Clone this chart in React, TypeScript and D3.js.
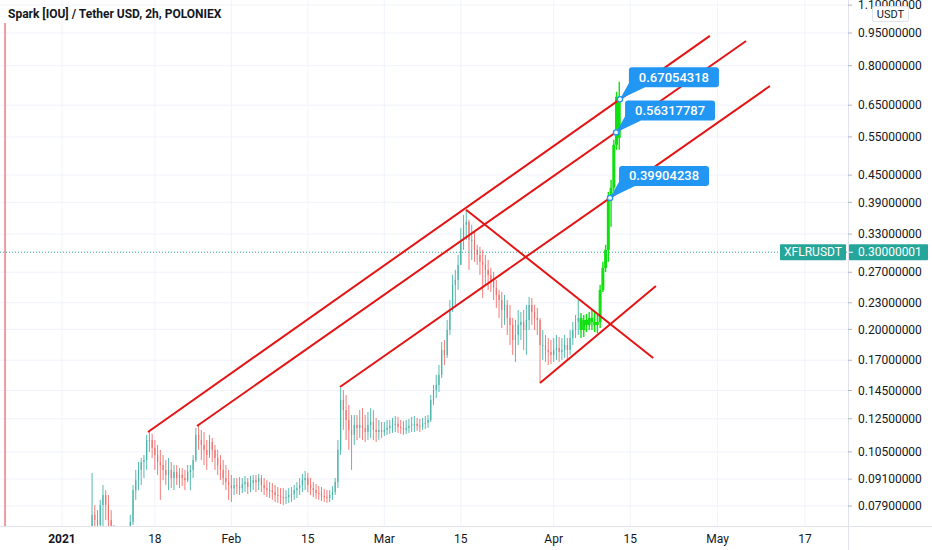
import * as d3 from "d3";

const FONT = "Roboto, 'Noto Sans', sans-serif";
const HOUR = 3600e3;

// [high, low, close] per 12h candle; open = previous close
type Row = [number, number, number];

const firstOpen = 0.068;

const janStart = "2021-01-06T12:00:00Z";
const janCandles: Row[] = [
  [0.094, 0.0661, 0.0754], [0.0794, 0.0679, 0.0734], [0.0773, 0.0679, 0.0715], [0.0816, 0.0679, 0.0794],
  [0.0882, 0.0697, 0.0837], [0.0859, 0.0734, 0.0794], [0.0837, 0.0697, 0.0734], [0.0773, 0.0661, 0.0697],
  [0.0715, 0.0628, 0.0661], [0.0697, 0.0612, 0.0644], [0.0679, 0.0596, 0.0628], [0.0679, 0.0596, 0.0634],
  [0.069, 0.0612, 0.0644], [0.0697, 0.0628, 0.0679], [0.0754, 0.0661, 0.0727], [0.0882, 0.0715, 0.0859],
  [0.0955, 0.0816, 0.0905], [0.0996, 0.0859, 0.0955], [0.1017, 0.0882, 0.0996], [0.1033, 0.0915, 0.1006],
  [0.1148, 0.0955, 0.1118], [0.1166, 0.105, 0.1118], [0.1154, 0.1017, 0.1072], [0.1118, 0.0955, 0.1033],
  [0.1089, 0.093, 0.0996], [0.1061, 0.0816, 0.098], [0.1033, 0.0905, 0.0955], [0.1006, 0.0882, 0.093],
  [0.1017, 0.0859, 0.0955], [0.0996, 0.0868, 0.0915], [0.098, 0.0859, 0.0945], [0.098, 0.0882, 0.0915],
  [0.0965, 0.0868, 0.093], [0.0965, 0.0877, 0.0915], [0.0955, 0.0859, 0.0905], [0.098, 0.0896, 0.0945],
  [0.098, 0.0859, 0.0955], [0.1033, 0.0915, 0.1006], [0.1191, 0.0996, 0.1148], [0.1204, 0.1061, 0.1118],
  [0.1179, 0.1006, 0.1089], [0.1166, 0.098, 0.1061], [0.1118, 0.0955, 0.1033], [0.1148, 0.1017, 0.1106],
  [0.113, 0.0996, 0.1061], [0.1089, 0.0955, 0.1017], [0.1061, 0.093, 0.098], [0.1033, 0.0905, 0.0955],
  [0.1006, 0.0882, 0.0915], [0.098, 0.0859, 0.0896], [0.0955, 0.0816, 0.0882],
];

const febStart = "2021-02-01T00:00:00Z";
const febCandles: Row[] = [
  [0.093, 0.0807, 0.0868], [0.0915, 0.0837, 0.0882], [0.0915, 0.0841, 0.0877], [0.092, 0.0837, 0.0868],
  [0.0915, 0.0846, 0.0886], [0.0925, 0.085, 0.0896], [0.0915, 0.0841, 0.0873], [0.0925, 0.085, 0.0891],
  [0.093, 0.0859, 0.0905], [0.093, 0.085, 0.0896], [0.0935, 0.0859, 0.0915], [0.093, 0.085, 0.0882],
  [0.0915, 0.0837, 0.0868], [0.0905, 0.0828, 0.0859], [0.0896, 0.0824, 0.0859], [0.0891, 0.0816, 0.085],
  [0.0882, 0.0807, 0.0837], [0.0873, 0.0803, 0.0833], [0.0868, 0.0798, 0.0828], [0.0868, 0.0794, 0.0824],
  [0.0859, 0.0798, 0.0828], [0.0868, 0.0803, 0.0837], [0.0873, 0.0807, 0.0841], [0.0882, 0.0816, 0.0859],
  [0.0896, 0.0824, 0.0868], [0.0915, 0.0837, 0.0882], [0.0935, 0.085, 0.0905], [0.095, 0.0859, 0.0915],
  [0.094, 0.085, 0.0882], [0.0915, 0.0837, 0.0868], [0.0896, 0.0828, 0.0859], [0.0887, 0.082, 0.0846],
  [0.0877, 0.0816, 0.0841], [0.0873, 0.0811, 0.0833], [0.0864, 0.0807, 0.0828], [0.0859, 0.0803, 0.0824],
  [0.0859, 0.0807, 0.0837], [0.0877, 0.0816, 0.085], [0.0915, 0.0837, 0.0896], [0.1118, 0.0868, 0.1061],
  [0.147, 0.1033, 0.138], [0.1454, 0.1179, 0.1308], [0.1416, 0.1118, 0.1242], [0.1344, 0.1061, 0.1179],
  [0.1275, 0.0955, 0.1148], [0.1275, 0.1089, 0.121], [0.1275, 0.1118, 0.1191], [0.1308, 0.113, 0.121],
  [0.1322, 0.1118, 0.1191], [0.1275, 0.1106, 0.1166], [0.1295, 0.1118, 0.121], [0.1322, 0.113, 0.1229],
  [0.1308, 0.1118, 0.1179], [0.1255, 0.1106, 0.1166], [0.1242, 0.1118, 0.1179], [0.1229, 0.113, 0.1166],
];

const marStart = "2021-03-01T00:00:00Z";
const marCandles: Row[] = [
  [0.1229, 0.1142, 0.1179], [0.1242, 0.1148, 0.1191], [0.1242, 0.1154, 0.1204], [0.1255, 0.116, 0.121],
  [0.1268, 0.1166, 0.1217], [0.1262, 0.116, 0.1198], [0.1242, 0.1154, 0.1191], [0.1236, 0.1148, 0.1179],
  [0.1242, 0.1154, 0.1191], [0.1249, 0.116, 0.1204], [0.1262, 0.1166, 0.121], [0.1268, 0.1166, 0.1217],
  [0.1255, 0.1173, 0.1204], [0.1249, 0.1166, 0.1198], [0.1255, 0.1179, 0.1217], [0.1268, 0.1185, 0.1223],
  [0.1275, 0.1191, 0.1242], [0.1416, 0.1229, 0.138], [0.1493, 0.1344, 0.1454], [0.1574, 0.1394, 0.1493],
  [0.1658, 0.1439, 0.1574], [0.1871, 0.1549, 0.1795], [0.1891, 0.1658, 0.1748], [0.2101, 0.1721, 0.1993],
  [0.2334, 0.1942, 0.2214], [0.2663, 0.2191, 0.2527], [0.2734, 0.2274, 0.2594], [0.2959, 0.2461, 0.2807],
  [0.341, 0.2807, 0.3202], [0.3652, 0.3037, 0.3465], [0.3749, 0.3202, 0.352], [0.3557, 0.2734, 0.3202],
  [0.3465, 0.2882, 0.3202], [0.3339, 0.2852, 0.3037], [0.3119, 0.2807, 0.2959], [0.3086, 0.2663, 0.2852],
  [0.3037, 0.2359, 0.2807], [0.2959, 0.2527, 0.2734], [0.2882, 0.2461, 0.2663], [0.2763, 0.2435, 0.2594],
  [0.2705, 0.2334, 0.2487], [0.2594, 0.2238, 0.2397], [0.2461, 0.2124, 0.2334], [0.2435, 0.2015, 0.2214],
  [0.2397, 0.2047, 0.2274], [0.2334, 0.1942, 0.2124], [0.2274, 0.1842, 0.2047], [0.2124, 0.1748, 0.1891],
  [0.2101, 0.1685, 0.1942], [0.2214, 0.1842, 0.2047], [0.2191, 0.1891, 0.2079], [0.2214, 0.1795, 0.1993],
  [0.2274, 0.1748, 0.2101], [0.2371, 0.1993, 0.2274], [0.2359, 0.2047, 0.2191], [0.2274, 0.1993, 0.2124],
  [0.2238, 0.1942, 0.2101], [0.2124, 0.1509, 0.1842], [0.1993, 0.1703, 0.1842], [0.1942, 0.1685, 0.1795],
  [0.1911, 0.1658, 0.1776], [0.1891, 0.1667, 0.1748],
];

const aprStart = "2021-04-01T00:00:00Z";
const aprCandles: Row[] = [
  [0.1911, 0.1685, 0.1795], [0.1942, 0.1703, 0.1814], [0.1921, 0.1685, 0.1776], [0.1911, 0.1703, 0.1795],
  [0.1942, 0.1721, 0.1842], [0.1911, 0.1703, 0.1795], [0.1993, 0.1748, 0.1911], [0.2079, 0.1842, 0.1993],
  [0.2157, 0.1911, 0.2079], [0.2334, 0.1942, 0.2124], [0.218, 0.1911, 0.1993], [0.2157, 0.1921, 0.2101],
  [0.2168, 0.1972, 0.2047], [0.2191, 0.1993, 0.2124], [0.2214, 0.1993, 0.2079], [0.2191, 0.1972, 0.2047],
  [0.2157, 0.1962, 0.2079], [0.2527, 0.2015, 0.2461], [0.2852, 0.2435, 0.2763], [0.3119, 0.2705, 0.3037],
  [0.4122, 0.2852, 0.3972], [0.4389, 0.3429, 0.421], [0.5417, 0.4122, 0.5277], [0.6974, 0.514, 0.6793],
  [0.7351, 0.514, 0.5475],
];

// candles from this time on are painted bright green
const highlightFrom = "2021-04-06T00:00:00Z";

const yTicks = [1.1, 0.95, 0.8, 0.65, 0.55, 0.45, 0.39, 0.33, 0.27, 0.23, 0.2, 0.17, 0.145, 0.125, 0.105, 0.091, 0.079];

const xTickDates = ["2021-01-01", "2021-01-18", "2021-02-01", "2021-02-15", "2021-03-01", "2021-03-15", "2021-04-01", "2021-04-15", "2021-05-01", "2021-05-17"];
const xTickLabels = ["2021", "18", "Feb", "15", "Mar", "15", "Apr", "15", "May", "17"];

// trend lines drawn by hand: [start time, price, end time, price]
const trendLines: [string, number, string, number][] = [
  ["2021-01-16T17:45:00Z", 0.1166, "2021-04-29T14:00:00Z", 0.9357],
  ["2021-01-25T17:00:00Z", 0.1203, "2021-05-06T05:00:00Z", 0.9108],
  ["2021-02-20T21:00:00Z", 0.1477, "2021-05-10T14:00:00Z", 0.7189],
  ["2021-03-15T23:00:00Z", 0.375, "2021-04-19T05:00:00Z", 0.1721],
  ["2021-03-29T12:00:00Z", 0.1509, "2021-04-19T17:00:00Z", 0.2512],
];

const priceLabels: [string, number][] = [
  ["2021-04-13T03:00:00Z", 0.67054318],
  ["2021-04-12T10:00:00Z", 0.56317787],
  ["2021-04-11T07:30:00Z", 0.39904238],
];

const verticalLineAt = "2020-12-21T14:00:00Z";
const lastPrice = 0.30000001;
const symbol = "XFLRUSDT";
const title = "Spark [IOU] / Tether USD, 2h, POLONIEX";

type Candle = { t: Date; o: number; h: number; l: number; c: number; hl: boolean };

function buildCandles(): Candle[] {
  const out: Candle[] = [];
  const hlT = new Date(highlightFrom).getTime();
  let prev = firstOpen;
  const segs: [string, Row[]][] = [
    [janStart, janCandles],
    [febStart, febCandles],
    [marStart, marCandles],
    [aprStart, aprCandles],
  ];
  for (const [start, rows] of segs) {
    const t0 = new Date(start).getTime();
    rows.forEach(([h, l, c], i) => {
      const t = t0 + i * 12 * HOUR;
      out.push({ t: new Date(t), o: prev, h: Math.max(h, prev, c), l: Math.min(l, prev, c), c, hl: t >= hlT });
      prev = c;
    });
  }
  return out;
}

export default function App() {
  const W = 932;
  const H = 550;
  const plotR = 848;
  const plotB = 526;

  const x = d3
    .scaleUtc()
    .domain([new Date("2021-01-01T00:00:00Z"), new Date("2021-05-17T00:00:00Z")])
    .range([62, 805]);
  const y = d3.scaleLog().domain([1.13, 0.07112]).range([0, plotB]);

  const candles = buildCandles();
  const step = x(new Date(12 * HOUR)) - x(new Date(0));
  const textColor = "#131722";
  const teal = "#26a69a";
  const blue = "#2196f3";
  const lineRed = "#e51414";

  const lastY = y(lastPrice);

  return (
    <div style={{ position: "absolute", left: 0, top: 0 }}>
      <svg width={W} height={H} style={{ display: "block", fontFamily: FONT }}>
        <rect width={W} height={H} fill="#ffffff" />
        <defs>
          <clipPath id="plot-area">
            <rect x={0} y={0} width={plotR} height={plotB} />
          </clipPath>
        </defs>

        {/* grid */}
        {yTicks.map((v) => (
          <line key={"gy" + v} x1={0} x2={plotR} y1={y(v)} y2={y(v)} stroke="#f0f3fa" strokeWidth={1} />
        ))}
        {xTickDates.map((d) => (
          <line key={"gx" + d} x1={x(new Date(d))} x2={x(new Date(d))} y1={0} y2={plotB} stroke="#f0f3fa" strokeWidth={1} />
        ))}

        <g clipPath="url(#plot-area)">
          {/* vertical marker line */}
          <line
            x1={x(new Date(verticalLineAt))}
            x2={x(new Date(verticalLineAt))}
            y1={23}
            y2={plotB}
            stroke="#ef98a1"
            strokeWidth={2}
          />

          {/* candles */}
          {candles.map((k, i) => {
            const cx = x(k.t);
            const up = k.c >= k.o;
            const col = k.hl ? "#10e010" : up ? teal : "#ef5350";
            const bw = k.hl ? 3 : Math.max(1, step * 0.42);
            const top = y(Math.max(k.o, k.c));
            const bot = y(Math.min(k.o, k.c));
            return (
              <g key={i} opacity={k.hl ? 1 : 0.85}>
                <line x1={cx} x2={cx} y1={y(k.h)} y2={y(k.l)} stroke={col} strokeWidth={k.hl ? 1.4 : 0.9} />
                <rect x={cx - bw / 2} y={top} width={bw} height={Math.max(1, bot - top)} fill={col} />
              </g>
            );
          })}

          {/* last price dotted line */}
          <line x1={0} x2={plotR} y1={lastY} y2={lastY} stroke={teal} strokeWidth={1} strokeDasharray="1 2" />

          {/* trend lines */}
          {trendLines.map(([t1, p1, t2, p2], i) => (
            <line
              key={"tl" + i}
              x1={x(new Date(t1))}
              y1={y(p1)}
              x2={x(new Date(t2))}
              y2={y(p2)}
              stroke={lineRed}
              strokeWidth={2}
            />
          ))}

          {/* price callouts */}
          {priceLabels.map(([t, p]) => {
            const px = x(new Date(t));
            const py = y(p);
            const bx = px + 9;
            const by = py - 32;
            const bw = 90;
            const bh = 20;
            return (
              <g key={"pl" + p}>
                <polygon points={`${bx + 1},${by + bh - 6} ${bx + 16},${by + bh} ${px},${py}`} fill={blue} />
                <rect x={bx} y={by} width={bw} height={bh} rx={3} fill={blue} />
                <text x={bx + bw / 2} y={by + 14.5} textAnchor="middle" fill="#ffffff" fontSize={13} fontWeight={500}>
                  {p.toFixed(8)}
                </text>
                <circle cx={px} cy={py} r={2.6} fill="#ffffff" stroke={blue} strokeWidth={1.4} />
              </g>
            );
          })}
        </g>

        {/* axes */}
        <line x1={0} x2={W} y1={plotB + 0.5} y2={plotB + 0.5} stroke="#e0e3eb" strokeWidth={1} />
        <line x1={plotR + 0.5} x2={plotR + 0.5} y1={0} y2={H} stroke="#e0e3eb" strokeWidth={1} />

        {yTicks.map((v) => (
          <g key={"ty" + v}>
            <line x1={plotR} x2={plotR + 4} y1={y(v)} y2={y(v)} stroke="#b2b5be" />
            <text x={858} y={y(v) + 4.2} fontSize={12} fill={textColor}>
              {v.toFixed(8)}
            </text>
          </g>
        ))}

        {xTickDates.map((d, i) => (
          <text
            key={"tx" + d}
            x={x(new Date(d))}
            y={543}
            textAnchor="middle"
            fontSize={12}
            fontWeight={i === 0 ? 700 : 400}
            fill={textColor}
          >
            {xTickLabels[i]}
          </text>
        ))}

        {/* last price labels */}
        <rect x={780} y={lastY - 8} width={66} height={16} fill={teal} rx={1} />
        <text x={813} y={lastY + 4.2} textAnchor="middle" fontSize={12} fill="#ffffff">
          {symbol}
        </text>
        <rect x={849} y={lastY - 8} width={79} height={16} fill={teal} rx={1} />
        <line x1={849} x2={853} y1={lastY} y2={lastY} stroke="#ffffff" />
        <text x={858} y={lastY + 4.2} fontSize={12} fill="#ffffff">
          {lastPrice.toFixed(8)}
        </text>

        {/* currency badge */}
        <rect x={872.5} y={6.5} width={36} height={15} rx={2} fill="#ffffff" stroke="#e0e3eb" />
        <text x={890.5} y={18} textAnchor="middle" fontSize={11} fill={textColor}>
          USDT
        </text>

        {/* title */}
        <text x={8} y={18} fontSize={12} fontWeight={700} fill={textColor}>
          {title}
        </text>
      </svg>
    </div>
  );
}
